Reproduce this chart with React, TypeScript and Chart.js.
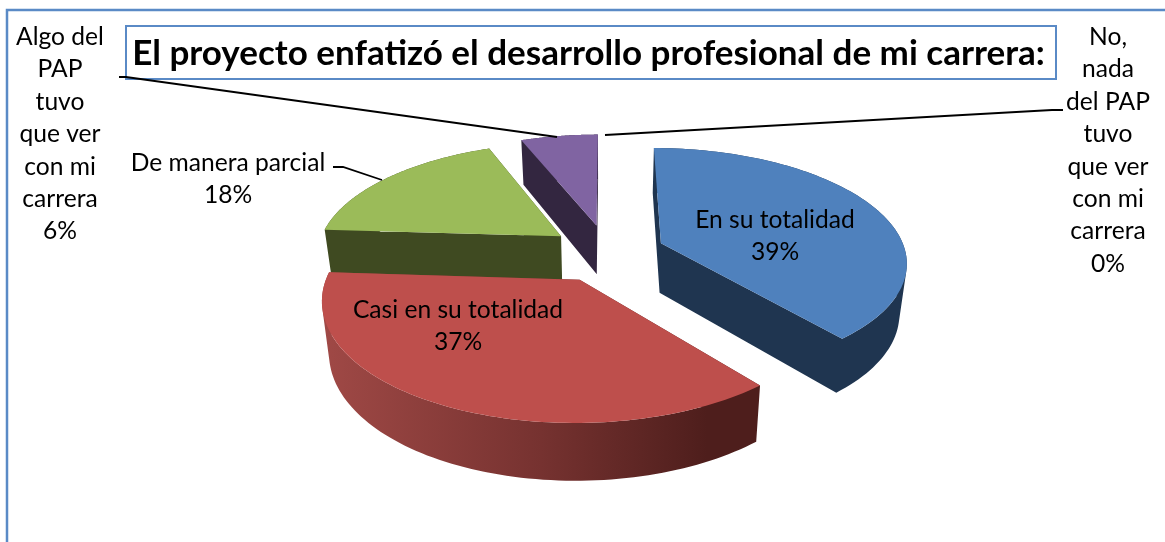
import React, { useEffect, useRef } from "react";
import { Chart, registerables } from "chart.js";

Chart.register(...registerables);

const titleText = "El proyecto enfatizó el desarrollo profesional de mi carrera:";
const categories = [
  "En su totalidad",
  "Casi en su totalidad",
  "De manera parcial",
  "Algo del PAP tuvo que ver con mi carrera",
  "No, nada del PAP tuvo que ver con mi carrera",
];
const shares = [39, 37, 18, 6, 0];
const topColors = ["#4F81BD", "#BE4F4C", "#9BBB59", "#8064A2", "#F79646"];
const wallColors = ["#1F3550", "#5A2422", "#3F4A21", "#332640", "#7A4A20"];

const labelLines = [
  ["En su totalidad"],
  ["Casi en su totalidad"],
  ["De manera parcial"],
  ["Algo del", "PAP", "tuvo", "que ver", "con mi", "carrera"],
  ["No,", "nada", "del PAP", "tuvo", "que ver", "con mi", "carrera"],
];
const labelAnchors = [
  { x: 775, y: 220 },
  { x: 458, y: 310 },
  { x: 228, y: 163 },
  { x: 60, y: 37 },
  { x: 1108, y: 37 },
];
const leaders = [
  [[119, 77], [126, 77], [557, 137]],
  [[605, 135], [1052, 110], [1063, 110]],
  [[333, 167], [343, 167], [382, 180]],
];

const camera = { cx: 607, horizon: -488, dist: 741, persp: 0.1517, radius: 245, depth: 50, shrink: 0.975 };
const explodeX = 0.237;
const explodeY = 0.258;
const drawOrder = [4, 3, 2, 0, 1];
const font = "Lato";

function project(x: number, y: number) {
  const w = 1 - camera.persp * y;
  return { X: camera.cx + (camera.radius * x) / w, Y: camera.horizon + camera.dist / w, w };
}
function lower(p: { X: number; Y: number; w: number }) {
  return {
    X: camera.cx + (p.X - camera.cx) * camera.shrink,
    Y: p.Y + camera.depth / Math.pow(p.w, 0.7),
    w: p.w,
  };
}

const pie3d = {
  id: "pie3d",
  beforeDraw(chart: any) {
    const { ctx, width, height } = chart;
    ctx.save();
    ctx.strokeStyle = "#5A8AC6";
    ctx.lineWidth = 2.5;
    ctx.beginPath();
    ctx.moveTo(7, height + 5);
    ctx.lineTo(7, 10);
    ctx.lineTo(width + 5, 10);
    ctx.stroke();
    ctx.lineWidth = 2;
    ctx.strokeStyle = "#5A8AC6";
    ctx.strokeRect(126, 26, 930, 53);
    ctx.restore();
  },
  beforeDatasetDraw(chart: any, args: any) {
    const meta = chart.getDatasetMeta(args.index);
    const { ctx } = chart;
    ctx.save();
    for (const i of drawOrder) {
      const arc = meta.data[i];
      const { startAngle, endAngle } = arc.getProps(["startAngle", "endAngle"], true);
      if (endAngle - startAngle < 1e-4) continue;
      const mid = (startAngle + endAngle) / 2;
      const ax = explodeX * Math.cos(mid);
      const ay = explodeY * Math.sin(mid);
      const rim: any[] = [];
      const n = 90;
      for (let k = 0; k <= n; k++) {
        const t = startAngle + ((endAngle - startAngle) * k) / n;
        rim.push(project(ax + Math.cos(t), ay + Math.sin(t)));
      }
      const apex = project(ax, ay);
      const rimLow = rim.map(lower);
      const apexLow = lower(apex);
      const trace = (pts: any[]) => {
        let area = 0;
        pts.forEach((p, j) => {
          const q = pts[(j + 1) % pts.length];
          area += p.X * q.Y - q.X * p.Y;
        });
        const ordered = area < 0 ? [...pts].reverse() : pts;
        ordered.forEach((p, j) => (j ? ctx.lineTo(p.X, p.Y) : ctx.moveTo(p.X, p.Y)));
        ctx.closePath();
      };

      let wallFill: any = wallColors[i];
      if (i === 1) {
        const xs = rim.map((p) => p.X);
        const g = ctx.createLinearGradient(Math.min(...xs), 0, Math.max(...xs), 0);
        g.addColorStop(0, "#A04946");
        g.addColorStop(0.5, "#763230");
        g.addColorStop(0.88, "#4E1E1C");
        g.addColorStop(1, "#4E1E1C");
        wallFill = g;
      }
      ctx.fillStyle = wallFill;
      ctx.beginPath();
      trace([apex, rim[0], rimLow[0], apexLow]);
      trace([apex, rim[n], rimLow[n], apexLow]);
      for (let k = 0; k < n; k++) {
        trace([rim[k], rim[k + 1], rimLow[k + 1], rimLow[k]]);
      }
      ctx.fill();

      ctx.fillStyle = arc.options.backgroundColor;
      ctx.beginPath();
      trace([apex, ...rim]);
      ctx.fill();
    }
    ctx.restore();
    return false;
  },
  afterDatasetsDraw(chart: any) {
    const { ctx } = chart;
    const values = chart.data.datasets[0].data as number[];
    const total = values.reduce((a, b) => a + b, 0);
    ctx.save();
    ctx.strokeStyle = "#000000";
    ctx.lineWidth = 1.8;
    for (const path of leaders) {
      ctx.beginPath();
      path.forEach(([x, y], j) => (j ? ctx.lineTo(x, y) : ctx.moveTo(x, y)));
      ctx.stroke();
    }
    ctx.fillStyle = "#000000";
    ctx.font = `24.6px ${font}`;
    ctx.textAlign = "center";
    ctx.textBaseline = "middle";
    labelLines.forEach((lines, i) => {
      const all = [...lines, `${Math.round((values[i] / total) * 100)}%`];
      all.forEach((t, j) => ctx.fillText(t, labelAnchors[i].x, labelAnchors[i].y + j * 32.4));
    });
    ctx.restore();
  },
};

export default function App() {
  const ref = useRef<HTMLCanvasElement>(null);
  useEffect(() => {
    document.body.style.margin = "0";
    const chart = new Chart(ref.current as HTMLCanvasElement, {
      type: "pie",
      data: {
        labels: categories,
        datasets: [{ data: shares, backgroundColor: topColors, borderWidth: 0 }],
      },
      options: {
        animation: false,
        responsive: false,
        layout: { padding: { left: 12, top: 33 } },
        plugins: {
          legend: { display: false },
          tooltip: { enabled: false },
          title: {
            display: true,
            text: titleText,
            color: "#000000",
            font: { family: font, size: 35, weight: "bold" },
            padding: { top: 0, bottom: 0 },
          },
        },
      },
      plugins: [pie3d],
    } as any);
    return () => chart.destroy();
  }, []);
  return <canvas ref={ref} width={1165} height={542} style={{ display: "block" }} />;
}
